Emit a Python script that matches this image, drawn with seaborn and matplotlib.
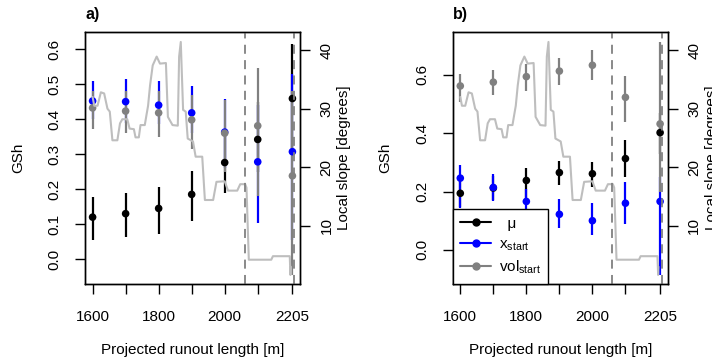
import seaborn as sns
import matplotlib.pyplot as plt
import pandas as pd
import numpy as np

sns.set_theme(style='white')
plt.rcParams['font.family'] = ['Liberation Sans', 'DejaVu Sans']
plt.rcParams['font.size'] = 11
plt.rcParams['text.color'] = 'black'
plt.rcParams['axes.labelcolor'] = 'black'
plt.rcParams['xtick.color'] = 'black'
plt.rcParams['ytick.color'] = 'black'

# Positions along the runout (m)
positions = [1600, 1700, 1800, 1900, 2000, 2100, 2205]
series = ['mu', 'xstart', 'volstart']

# Panel a) GSh mean and interval per parameter
a_mu = [0.120, 0.130, 0.145, 0.185, 0.276, 0.342, 0.459]
a_mu_lo = [0.055, 0.062, 0.073, 0.110, 0.190, 0.250, 0.300]
a_mu_hi = [0.178, 0.190, 0.205, 0.252, 0.360, 0.450, 0.616]
a_xs = [0.452, 0.450, 0.440, 0.418, 0.363, 0.278, 0.307]
a_xs_lo = [0.400, 0.390, 0.385, 0.360, 0.260, 0.104, 0.054]
a_xs_hi = [0.510, 0.515, 0.510, 0.495, 0.458, 0.440, 0.528]
a_vol = [0.432, 0.423, 0.418, 0.398, 0.360, 0.381, 0.238]
a_vol_lo = [0.372, 0.360, 0.350, 0.315, 0.250, 0.180, -0.045]
a_vol_hi = [0.480, 0.480, 0.480, 0.470, 0.455, 0.545, 0.480]

# Panel b)
b_mu = [0.194, 0.212, 0.238, 0.265, 0.261, 0.313, 0.402]
b_mu_lo = [0.148, 0.170, 0.171, 0.223, 0.217, 0.251, 0.330]
b_mu_hi = [0.240, 0.255, 0.280, 0.306, 0.303, 0.377, 0.470]
b_xs = [0.246, 0.214, 0.166, 0.122, 0.100, 0.160, 0.166]
b_xs_lo = [0.143, 0.168, 0.120, 0.074, 0.051, 0.089, -0.086]
b_xs_hi = [0.292, 0.259, 0.210, 0.174, 0.160, 0.234, 0.249]
b_vol = [0.562, 0.575, 0.594, 0.613, 0.633, 0.523, 0.432]
b_vol_lo = [0.508, 0.532, 0.545, 0.565, 0.583, 0.440, 0.200]
b_vol_hi = [0.603, 0.616, 0.638, 0.657, 0.686, 0.596, 0.714]

# Local slope profile along the runout
profile_m = [1600, 1605, 1615, 1625, 1635, 1645, 1652, 1660, 1675, 1683, 1690,
             1705, 1712, 1725, 1730, 1740, 1745, 1758, 1764, 1768, 1774, 1782,
             1794, 1804, 1822, 1828, 1842, 1858, 1862, 1867, 1874, 1882, 1888,
             1904, 1912, 1932, 1940, 1965, 1975, 2000, 2010, 2038, 2047, 2062,
             2066, 2073, 2141, 2146, 2197, 2199, 2200]
profile_deg = [32.0, 30.5, 30.5, 32.8, 32.6, 30.0, 29.5, 24.6, 24.6, 27.5, 28.2,
               28.2, 26.6, 26.5, 25.1, 25.1, 27.2, 27.2, 29.2, 30.5, 34.0, 37.4,
               38.9, 37.7, 37.8, 28.6, 27.2, 27.1, 38.9, 41.4, 29.8, 29.5, 24.9,
               24.4, 21.8, 21.8, 14.4, 14.4, 17.5, 17.6, 16.0, 16.0, 17.1, 17.1,
               16.5, 4.2, 4.2, 4.8, 4.8, 1.6, 3.0]

dashed_at = [2060, 2210]
colors = {'mu': 'black', 'xstart': '#0000FF', 'volstart': '#808080'}
labels = {'mu': '  μ', 'xstart': r'x$_{\mathregular{start}}$',
          'volstart': r'vol$_{\mathregular{start}}$'}


def make_df(mu, mu_lo, mu_hi, xs, xs_lo, xs_hi, vol, vol_lo, vol_hi):
    parts = []
    for name, v, lo, hi in [('mu', mu, mu_lo, mu_hi), ('xstart', xs, xs_lo, xs_hi),
                            ('volstart', vol, vol_lo, vol_hi)]:
        parts.append(pd.DataFrame({'pos': positions, 'series': name,
                                   'gsh': v, 'lo': lo, 'hi': hi}))
    return pd.concat(parts, ignore_index=True)


df_a = make_df(a_mu, a_mu_lo, a_mu_hi, a_xs, a_xs_lo, a_xs_hi, a_vol, a_vol_lo, a_vol_hi)
df_b = make_df(b_mu, b_mu_lo, b_mu_hi, b_xs, b_xs_lo, b_xs_hi, b_vol, b_vol_lo, b_vol_hi)
prof = pd.DataFrame({'m': profile_m, 'deg': profile_deg})

fig = plt.figure(figsize=(7.12, 3.63), dpi=100)
W, H = 712, 363
ax_a = fig.add_axes([85 / W, 1 - 284 / H, 215 / W, 252 / H])
ax_b = fig.add_axes([452.7 / W, 1 - 284 / H, 215 / W, 252 / H])

panels = [(ax_a, df_a, (-0.071, 0.649), np.arange(0, 0.61, 0.1), '%.1f', 'a)'),
          (ax_b, df_b, (-0.117, 0.747), np.arange(0, 0.61, 0.2), '%.1f', 'b)')]

for ax, df, ylim, yticks, fmt, tag in panels:
    for name in series:
        sub = df[df['series'] == name]
        ax.vlines(sub['pos'], sub['lo'], sub['hi'], color=colors[name], lw=1.6, zorder=2)
    sns.scatterplot(data=df, x='pos', y='gsh', hue='series', palette=colors,
                    s=30, edgecolor='none', legend=False, ax=ax, zorder=3)
    ax.set_xlim(1577, 2228)
    ax.set_ylim(*ylim)
    ax.set_xticks(positions)
    ax.set_xticklabels(['1600', '', '1800', '', '2000', '', '2205'])
    ax.set_yticks(yticks)
    ax.set_yticklabels([fmt % t for t in yticks], rotation=90, va='center')
    ax.tick_params(axis='x', length=7, width=1, pad=12, labelsize=11)
    ax.tick_params(axis='y', length=7, width=1, pad=10, labelsize=11)
    ax.tick_params(left=True, bottom=True)
    ax.set_xlabel('Projected runout length [m]', fontsize=11)
    ax.set_ylabel('GSh', fontsize=11)
    ax.xaxis.set_label_coords(0.5, -0.234)
    ax.yaxis.set_label_coords(-0.279, 0.5)
    for sp in ax.spines.values():
        sp.set_color('black')
        sp.set_linewidth(1.0)

    ax2 = ax.twinx()
    sns.lineplot(data=prof, x='m', y='deg', ax=ax2, color='#BEBEBE', lw=1.5,
                 estimator=None, sort=False)
    for xd in dashed_at:
        ax2.axvline(xd, color='#808080', lw=1.3, ls=(0, (5, 3.5)))
    ax2.set_ylim(0.05, 43.1)
    ax2.set_xlim(1577, 2228)
    ax2.set_yticks([10, 20, 30, 40])
    ax2.set_yticklabels(['10', '20', '30', '40'], rotation=90, va='center')
    ax2.tick_params(axis='y', length=7, width=1, pad=7, labelsize=11, right=True)
    ax2.set_ylabel('Local slope [degrees]', fontsize=11)
    ax2.yaxis.set_label_coords(1.172, 0.5)
    ax2.grid(False)
    for sp in ax2.spines.values():
        sp.set_color('black')
        sp.set_linewidth(1.0)

    pos = ax.get_position()
    fig.text(pos.x0, 1 - 15 / H, tag, ha='left', va='center', fontsize=11.5, fontweight='bold')

# Legend in panel b, placed on top of the slope axis
handles = [plt.Line2D([], [], color=colors[n], marker='o', markersize=5, lw=1.5) for n in series]
top_ax = fig.axes[-1]
leg = top_ax.legend(handles, [labels[n] for n in series], loc='lower left',
                    bbox_to_anchor=(0, 0), borderaxespad=0, frameon=True, fancybox=False,
                    edgecolor='black', framealpha=1, fontsize=11, handlelength=2.0,
                    handletextpad=0.5, borderpad=0.5, labelspacing=0.4)
leg.get_frame().set_linewidth(1.0)

plt.savefig('out.png', dpi=100)
